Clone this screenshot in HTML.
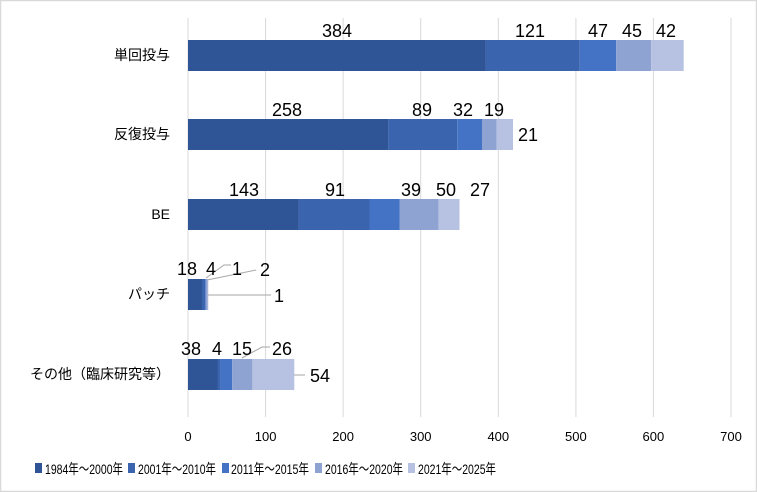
<!DOCTYPE html>
<html><head><meta charset="utf-8"><style>
body{margin:0;background:#fff}
svg{display:block;font-family:"Liberation Sans","Noto Sans CJK JP",sans-serif}
</style></head><body>
<svg width="757" height="492" viewBox="0 0 757 492">
<rect x="0.5" y="0.5" width="756" height="491" fill="#fff" stroke="#d9d9d9" stroke-width="1.5"/>
<g stroke="#d9d9d9" stroke-width="1">
<line x1="188" y1="18" x2="188" y2="417"/><line x1="265.6" y1="18" x2="265.6" y2="417"/>
<line x1="343.1" y1="18" x2="343.1" y2="417"/><line x1="420.7" y1="18" x2="420.7" y2="417"/>
<line x1="498.3" y1="18" x2="498.3" y2="417"/><line x1="575.9" y1="18" x2="575.9" y2="417"/>
<line x1="653.4" y1="18" x2="653.4" y2="417"/><line x1="731" y1="18" x2="731" y2="417"/>
</g>
<g>
<rect x="188" y="40" width="297.9" height="31" fill="#2f5597"/><rect x="485.9" y="40" width="93.9" height="31" fill="#3a64ad"/><rect x="579.8" y="40" width="36.4" height="31" fill="#4472c4"/><rect x="616.2" y="40" width="34.9" height="31" fill="#8fa3d3"/><rect x="651.1" y="40" width="32.6" height="31" fill="#b7c2e3"/>
<rect x="188" y="119" width="200.1" height="31" fill="#2f5597"/><rect x="388.1" y="119" width="69.1" height="31" fill="#3a64ad"/><rect x="457.2" y="119" width="24.8" height="31" fill="#4472c4"/><rect x="482" y="119" width="14.7" height="31" fill="#8fa3d3"/><rect x="496.7" y="119" width="16.3" height="31" fill="#b7c2e3"/>
<rect x="188" y="199" width="110.9" height="31" fill="#2f5597"/><rect x="298.9" y="199" width="70.6" height="31" fill="#3a64ad"/><rect x="369.5" y="199" width="30.3" height="31" fill="#4472c4"/><rect x="399.8" y="199" width="38.8" height="31" fill="#8fa3d3"/><rect x="438.6" y="199" width="20.9" height="31" fill="#b7c2e3"/>
<rect x="188" y="279" width="14" height="31" fill="#2f5597"/><rect x="202" y="279" width="3.1" height="31" fill="#3a64ad"/><rect x="205.1" y="279" width="0.8" height="31" fill="#4472c4"/><rect x="205.9" y="279" width="1.6" height="31" fill="#8fa3d3"/><rect x="207.5" y="279" width="0.8" height="31" fill="#b7c2e3"/>
<rect x="188" y="359" width="29.5" height="31" fill="#2f5597"/><rect x="217.5" y="359" width="3.1" height="31" fill="#3a64ad"/><rect x="220.6" y="359" width="11.6" height="31" fill="#4472c4"/><rect x="232.2" y="359" width="20.2" height="31" fill="#8fa3d3"/><rect x="252.4" y="359" width="41.9" height="31" fill="#b7c2e3"/>
</g>
<g stroke="#a6a6a6" fill="none" stroke-width="1">
<polyline points="206,278 224,265 231,265"/>
<polyline points="207,280 256,270"/>
<polyline points="208,295 271,295"/>
<polyline points="242,358 262,347 270,347"/>
<polyline points="294,375 305,375"/>
</g>
<g font-size="18" fill="#000" text-anchor="middle">
<text x="337" y="37">384</text><text x="530" y="37">121</text><text x="598" y="37">47</text><text x="632" y="37">45</text><text x="666" y="37">42</text>
<text x="287" y="116">258</text><text x="422" y="116">89</text><text x="463" y="116">32</text><text x="494" y="116">19</text><text x="528" y="141">21</text>
<text x="244" y="196">143</text><text x="335" y="196">91</text><text x="411" y="196">39</text><text x="446" y="196">50</text><text x="480" y="196">27</text>
<text x="187" y="275">18</text><text x="211" y="275">4</text><text x="237" y="275">1</text><text x="265" y="276">2</text><text x="279" y="302">1</text>
<text x="191" y="355">38</text><text x="217" y="355">4</text><text x="242" y="355">15</text><text x="282" y="355">26</text><text x="320" y="382">54</text>
</g>
<g font-size="14" fill="#000" text-anchor="end">
<text x="170" y="60">単回投与</text><text x="170" y="139">反復投与</text><text x="170" y="219">BE</text><text x="170" y="299">パッチ</text><text x="170" y="379">その他（臨床研究等）</text>
</g>
<g font-size="13" fill="#000" text-anchor="middle">
<text x="188" y="441">0</text><text x="265.6" y="441">100</text><text x="343.1" y="441">200</text><text x="420.7" y="441">300</text><text x="498.3" y="441">400</text><text x="575.9" y="441">500</text><text x="653.4" y="441">600</text><text x="731" y="441">700</text>
</g>
<g font-size="14" fill="#000">
<rect x="35" y="463" width="7" height="10" fill="#2f5597"/><text x="45" y="474" textLength="78" lengthAdjust="spacingAndGlyphs">1984年～2000年</text>
<rect x="128" y="463" width="7" height="10" fill="#3a64ad"/><text x="138" y="474" textLength="78" lengthAdjust="spacingAndGlyphs">2001年～2010年</text>
<rect x="222" y="463" width="7" height="10" fill="#4472c4"/><text x="231" y="474" textLength="78" lengthAdjust="spacingAndGlyphs">2011年～2015年</text>
<rect x="315" y="463" width="7" height="10" fill="#8fa3d3"/><text x="325" y="474" textLength="78" lengthAdjust="spacingAndGlyphs">2016年～2020年</text>
<rect x="408" y="463" width="7" height="10" fill="#b7c2e3"/><text x="418" y="474" textLength="78" lengthAdjust="spacingAndGlyphs">2021年～2025年</text>
</g>
</svg>
</body></html>
